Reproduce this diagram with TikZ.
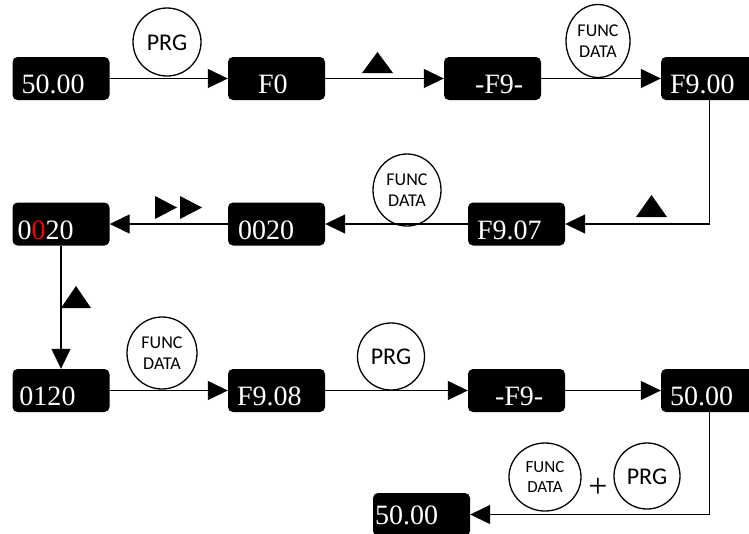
\documentclass[tikz,border=0pt]{standalone}
\usepackage{fontspec}
\setmainfont{Liberation Serif}
\newfontfamily\keyfont{Carlito}
\usetikzlibrary{arrows.meta,shapes.geometric}
\begin{document}
\begin{tikzpicture}[x=1pt,y=-1pt,
  disp/.style={fill=black, rounded corners=5pt, minimum width=97pt, minimum height=43pt,
    inner xsep=9pt, inner ysep=0pt, text width=79pt, align=left, text=white,
    font=\rmfamily\fontsize{28}{28}\selectfont, text height=30pt, text depth=0pt},
  key/.style={draw, line width=1.3pt, ellipse, minimum width=68pt, minimum height=72pt,
    inner sep=0pt, align=center, font=\keyfont\fontsize{18}{21}\selectfont},
  prgkey/.style={key, minimum width=68pt, minimum height=68pt, font=\keyfont\fontsize{24}{24}\selectfont,
    text height=16pt, text depth=0pt},
  conn/.style={line width=1.4pt, -{Triangle[length=20pt,width=19pt]}},
  tri/.style={fill=black}
]
\useasboundingbox (0,0) rectangle (749,533);
\clip (0,0) rectangle (749,533);

% row 1
\node[disp] (a1) at (61,78.5) {50.00};
\node[disp] (b1) at (276.5,78.5) {\hspace*{21pt}F0};
\node[disp] (c1) at (492.5,78.5) {\hspace*{22pt}-F9-};
\node[disp] (d1) at (709.5,78.5) {F9.00};

% row 2
\node[disp] (a2) at (61,224) {\hspace*{-4pt}0\textcolor{red}{0}20};
\node[disp] (b2) at (276.5,224) {\hspace*{1pt}0020};
\node[disp] (c2) at (516.5,224) {F9.07};

% row 3
\node[disp] (a3) at (61,390.5) {\hspace*{-2pt}0120};
\node[disp] (b3) at (276.5,390.5) {F9.08};
\node[disp] (c3) at (516.5,390.5) {\hspace*{18pt}-F9-};
\node[disp] (d3) at (709.5,390.5) {50.00};

% bottom
\node[disp, text height=19pt] (e) at (421.5,514.5) {\hspace*{-7pt}50.00};

% keys
\node[prgkey] (k1) at (167,42) {PRG};
\node[key, minimum width=64pt, minimum height=73pt] (k2) at (598,41) {FUNC\\DATA};
\node[key] (k3) at (407,190) {FUNC\\DATA};
\node[key, minimum width=70pt] (k4) at (162,353) {FUNC\\DATA};
\node[prgkey, minimum width=67pt, minimum height=67pt] (k5) at (391,356.5) {PRG};
\node[key, minimum width=72pt, minimum height=68pt, font=\keyfont\fontsize{17}{20}\selectfont] (k6) at (545,477) {FUNC\\DATA};
\node[prgkey, minimum width=66pt, minimum height=66pt] (k7) at (647,476) {PRG};
\node[font=\rmfamily\fontsize{34}{34}\selectfont, inner sep=0pt] (plus) at (598,488) {+};

% arrow key symbols
\fill[tri] (362,73) -- (393,73) -- (377.5,52) -- cycle;
\fill[tri] (636,217) -- (667,217) -- (651.5,195) -- cycle;
\fill[tri] (155,196) -- (177,207.5) -- (155,219) -- cycle;
\fill[tri] (180,196) -- (202,207.5) -- (180,219) -- cycle;
\fill[tri] (61,308) -- (91,308) -- (76,286) -- cycle;

% connectors
\draw[conn] (a1) -- (b1);
\draw[conn] (b1) -- (c1);
\draw[conn] (c1) -- (d1);
\draw[conn] (d1.south) |- (c2.east);
\draw[conn] (c2) -- (b2);
\draw[conn] (b2) -- (a2);
\draw[conn] (a2) -- (a3);
\draw[conn] (a3) -- (b3);
\draw[conn] (b3) -- (c3);
\draw[conn] (c3) -- (d3);
\draw[conn] (d3.south) |- (e.east);
\end{tikzpicture}
\end{document}
